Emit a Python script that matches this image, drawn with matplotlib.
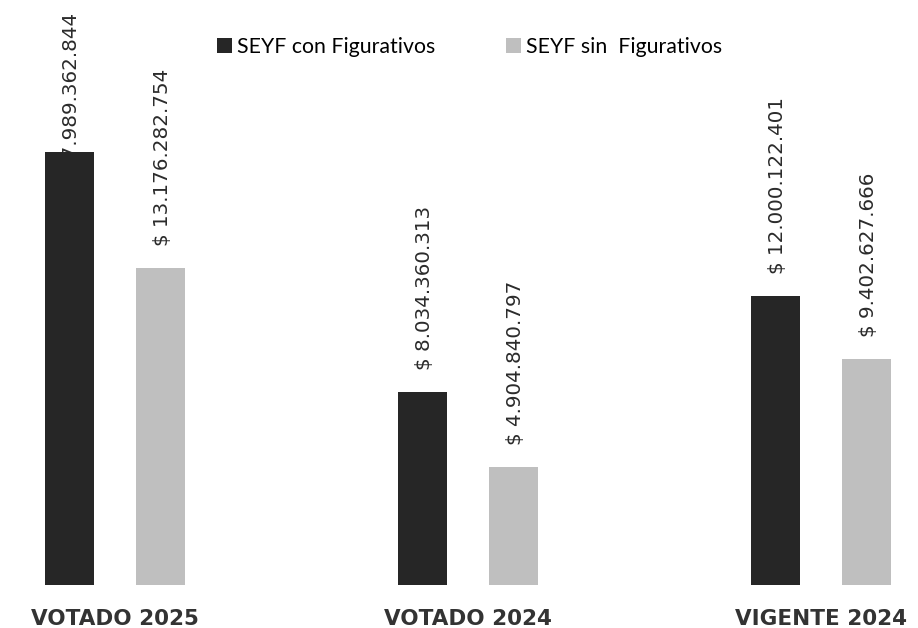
import numpy as np
import matplotlib.pyplot as plt

# values (pesos)
categories = ['VOTADO 2025', 'VOTADO 2024', 'VIGENTE 2024']
con_figurativos = [17989362844, 8034360313, 12000122401]
sin_figurativos = [13176282754, 4904840797, 9402627666]
series_names = ['SEYF con Figurativos', 'SEYF sin  Figurativos']


def money(v):
    return '$ ' + f'{v:,}'.replace(',', '.')


fig = plt.figure(figsize=(9.18, 6.28), dpi=100)
ax = fig.add_axes([0, 43 / 628, 1, 575 / 628])

x = np.arange(len(categories))
w = 0.139
off = 0.129

b1 = ax.bar(x - off, con_figurativos, w, color='#262626', label=series_names[0], zorder=2)
b2 = ax.bar(x + off, sin_figurativos, w, color='#bfbfbf', label=series_names[1], zorder=2)

ax.set_xlim(-0.326, 2.275)
ax.set_ylim(0, 23.9e9)

lab_kw = dict(rotation=90, ha='center', fontsize=14.3, color='#2b2b2b', zorder=1)

labels = []
for bars, vals in [(b1, con_figurativos), (b2, sin_figurativos)]:
    for r, v in zip(bars, vals):
        cx = r.get_x() + r.get_width() / 2
        t = ax.annotate(money(v), (cx, v), xytext=(2, 22), textcoords='offset pixels',
                        va='bottom', **lab_kw)
        labels.append((t, cx, v))

# labels that do not fit are pushed down into the bar (like the original)
fig.canvas.draw()
for t, cx, v in labels:
    bb = t.get_window_extent()
    if bb.y1 > fig.bbox.height - 12:
        txt = t.get_text()
        t.remove()
        ax.annotate(txt, (cx, 1), xycoords=('data', 'axes fraction'), xytext=(2, -3),
                    textcoords='offset pixels', va='top', **lab_kw)

ax.set_xticks(x)
ax.set_xticklabels(categories, fontsize=15.5, fontweight='bold', color='#333333')
ax.tick_params(axis='x', length=0, pad=17)
ax.set_yticks([])
for s in ax.spines.values():
    s.set_visible(False)

fig.legend(loc='center', bbox_to_anchor=(0.5115, 0.925), ncol=2, frameon=False,
           handlelength=0.7, handleheight=0.7, handletextpad=0.25, columnspacing=3.33,
           prop={'family': 'Lato', 'size': 15.3})

fig.savefig('out.png', dpi=100)
